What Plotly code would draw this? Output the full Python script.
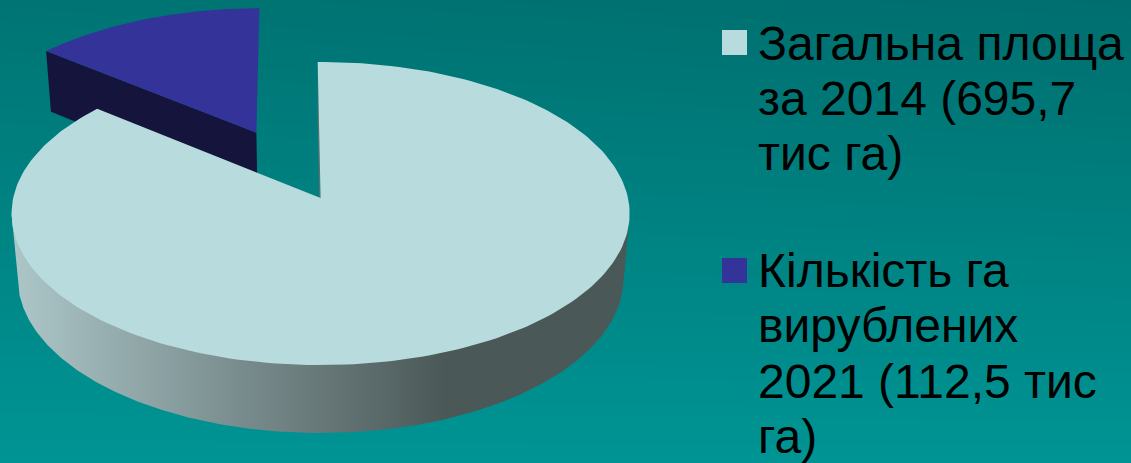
import numpy as np
import plotly.graph_objects as go

# Chart data
slice_names = ["Загальна площа за 2014", "Кількість га вирублених 2021"]
slice_values = [695.7, 112.5]
legend_lines = [
    ["Загальна площа", "за 2014 (695,7", "тис га)"],
    ["Кількість га", "вирублених", "2021 (112,5 тис", "га)"],
]
slice_colors = ["#B8DCDE", "#333399"]

WIDTH, HEIGHT = 1131, 463

# Perspective camera for the disc, in pixels
CX, CY = 320.6, 198.0
RX, RY = 307.4, 150.0
PERSP_Y, PERSP_D = 0.1025, 0.02
THICK = 65.6
ROTATION = 0.6
EXPLODE = 0.505


def project(x, y, d=0.0):
    """Map disc coordinates (unit radius, d=0 top face, d=1 bottom face) to the page."""
    x, y = np.asarray(x, float), np.asarray(y, float)
    w = 1 + PERSP_Y * y + PERSP_D * d
    return CX + RX * x / w, CY - RY * y / w + THICK * d / w


def arc(a0, a1, n=240):
    t = np.radians(np.linspace(a0, a1, n))
    return np.cos(t), np.sin(t)


def polygon(px, py, color=None, gradient=None):
    trace = dict(x=px, y=py, mode="lines", fill="toself", line=dict(width=0), hoverinfo="skip", showlegend=False)
    if gradient is not None:
        trace["fillgradient"] = gradient
    else:
        trace["fillcolor"] = color
    return go.Scatter(**trace)


total = sum(slice_values)
big_sweep = 360 * slice_values[0] / total
start = 90 + ROTATION
big_end = start - big_sweep
small_end = big_end + 360  # the small slice runs from here back up to the start
mid = np.radians((start + small_end) / 2)
ox, oy = EXPLODE * np.cos(mid), EXPLODE * np.sin(mid)

fig = go.Figure()

# Teal backdrop, dark at the top and lighter towards the bottom
fig.add_trace(go.Heatmap(
    x=[0, WIDTH], y=[0, HEIGHT],
    z=[[0.16, 0.0], [1.0, 1.0]],
    zmin=0, zmax=1, zsmooth="best", showscale=False, hoverinfo="skip",
    colorscale=[[0, "#006E6E"], [1, "#009494"]],
))

# Exploded slice: side face first, then its top
ax, ay = arc(small_end, start)
xs = np.array([ox + ax[0], ox])
ys = np.array([oy + ay[0], oy])
tx, ty = project(xs, ys, 0)
bx, by = project(xs, ys, 1)
fig.add_trace(polygon(np.r_[tx, bx[::-1]], np.r_[ty, by[::-1]], "#15143C"))
sx, sy = project(np.r_[ox, ox + ax], np.r_[oy, oy + ay], 0)
fig.add_trace(polygon(sx, sy, slice_colors[1]))

# Large slice: thin cut face beside the gap
ex, ey = np.cos(np.radians(start)), np.sin(np.radians(start))
tx, ty = project([ex, 0], [ey, 0], 0)
bx, by = project([ex, 0], [ey, 0], 1)
fig.add_trace(polygon(np.r_[tx, bx[::-1]], np.r_[ty, by[::-1]], "#5F7070"))

# Large slice: curved rim shaded from left to right, bounded by the
# silhouette lines joining the widest points of the two faces
ax, ay = arc(start, big_end)
fx, fy = arc(180 - 30, 360 + 30, 480)
top_x, top_y = project(fx, fy, 0)
bot_x, bot_y = project(fx, fy, 1)
tl, tr = int(np.argmin(top_x)), int(np.argmax(top_x))
bl, br = int(np.argmin(bot_x)), int(np.argmax(bot_x))
rim = dict(
    type="horizontal", start=15, stop=625,
    colorscale=[[0, "rgb(172,198,200)"], [0.705, "rgb(75,88,88)"], [1, "rgb(75,88,88)"]],
)
fig.add_trace(polygon(
    np.r_[top_x[tl], bot_x[bl:br + 1], top_x[tr]],
    np.r_[top_y[tl], bot_y[bl:br + 1], top_y[tr]],
    gradient=rim,
))

# Large slice: top face
sx, sy = project(np.r_[0, ax], np.r_[0, ay], 0)
fig.add_trace(polygon(sx, sy, slice_colors[0]))

# Legend swatches
swatch_y = [42.5, 270.5]
fig.add_trace(go.Scatter(
    x=[734.5, 734.5], y=swatch_y, mode="markers", hoverinfo="skip", showlegend=False,
    marker=dict(symbol="square", size=25, color=slice_colors, line=dict(width=0)),
    text=slice_names,
))

# Legend text, one annotation per line, centred on the line box
baselines = [[60, 115, 170], [287, 342, 398, 453]]
for lines, ys_ in zip(legend_lines, baselines):
    for line, base in zip(lines, ys_):
        fig.add_annotation(
            x=758, y=base - 16.6, text=line, showarrow=False, xanchor="left", yanchor="middle",
            xref="x", yref="y", borderpad=0, borderwidth=0,
            font=dict(family="Liberation Sans", size=48, color="#000000"),
        )

fig.update_layout(
    width=WIDTH, height=HEIGHT, autosize=False,
    margin=dict(l=0, r=0, t=0, b=0, pad=0),
    paper_bgcolor="#008080", plot_bgcolor="#008080", showlegend=False,
    xaxis=dict(range=[0, WIDTH], visible=False, fixedrange=True),
    yaxis=dict(range=[HEIGHT, 0], visible=False, fixedrange=True),
)
fig.write_html("out.html")
